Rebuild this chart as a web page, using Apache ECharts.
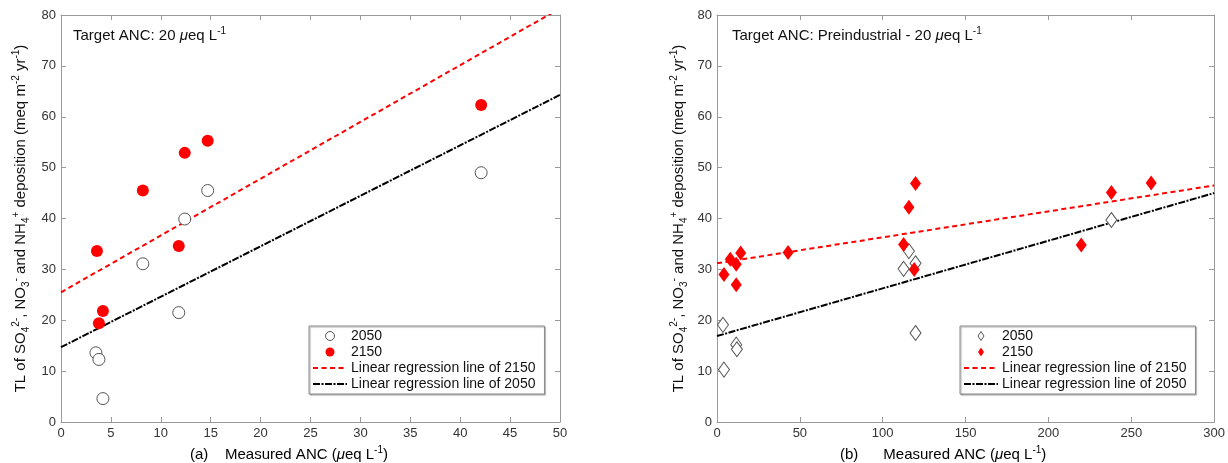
<!DOCTYPE html>
<html>
<head>
<meta charset="utf-8">
<script src="https://cdn.jsdelivr.net/npm/echarts@6/dist/echarts.min.js"></script>
<style>
  html, body { margin: 0; padding: 0; background: #fff; }
  #chart { width: 1228px; height: 463px; }
</style>
</head>
<body>
<div id="chart"></div>
<script>
// panel (a): target ANC 20 ueq/L
var ancA2050 = [3.5, 3.8, 4.2, 8.2, 11.8, 12.4, 14.7, 42.1];
var tlA2050  = [13.6, 12.3, 4.6, 31.1, 21.5, 39.9, 45.5, 49.0];
var ancA2150 = [3.6, 3.8, 4.2, 8.2, 11.8, 12.4, 14.7, 42.1];
var tlA2150  = [33.6, 19.4, 21.8, 45.5, 34.6, 52.9, 55.3, 62.3];
var regA2150 = [[0, 25.5], [50, 81.3]];
var regA2050 = [[0, 14.7], [50, 64.3]];

// panel (b): target ANC preindustrial - 20 ueq/L
var ancB2050 = [3.6, 4.2, 11.6, 12.0, 112.6, 115.8, 119.8, 119.8, 238];
var tlB2050  = [19.1, 10.3, 15.2, 14.3, 30.1, 33.6, 31.2, 17.5, 39.7];
var ancB2150 = [4.2, 8.0, 11.6, 11.6, 14.3, 42.9, 112.6, 115.8, 119.8, 119.0, 219.8, 238, 262];
var tlB2150  = [29.0, 32.0, 31.0, 27.0, 33.2, 33.3, 34.9, 42.2, 46.9, 30.0, 34.8, 45.1, 47.0];
var regB2150 = [[0, 31.2], [300, 46.5]];
var regB2050 = [[0, 16.9], [300, 45.0]];

var xTicksA = {min: 0, max: 50, interval: 5};
var xTicksB = {min: 0, max: 300, interval: 50};
var yTicks  = {min: 0, max: 80, interval: 10};

var legendNames = ['2050', '2150', 'Linear regression line of 2150', 'Linear regression line of 2050'];

var FONT = 'Liberation Sans';
var axisGrey = '#9a9a9a';

// narrow diamond for the legend, padded with move-to points so it is not stretched
var legendDiamond = 'path://M0,4.5 M34,4.5 M17,0 L20,4.5 L17,9 L14,4.5 Z';

var rich = {
  n:  {fontSize: 15, fontFamily: FONT, color: '#111', lineHeight: 20, fontWeight: 'normal'},
  i:  {fontSize: 15, fontFamily: FONT, color: '#111', lineHeight: 20, fontWeight: 'normal', fontStyle: 'italic'},
  sp: {fontSize: 10, fontFamily: FONT, color: '#111', lineHeight: 10, fontWeight: 'normal', verticalAlign: 'top'},
  sb: {fontSize: 10, fontFamily: FONT, color: '#111', lineHeight: 10, fontWeight: 'normal', verticalAlign: 'bottom'}
};

var yName = '{n|TL of SO}{sb|4}{sp|2-}{n|, NO}{sb|3}{sp|-}{n| and NH}{sb|4}{sp|+}{n| deposition (meq m}{sp|-2}{n| yr}{sp|-1}{n|)}';
var unit = '{n|(}{i|μ}{n|eq L}{sp|-1}{n|)}';

function pairs(xs, ys) {
  return xs.map(function (x, k) { return [x, ys[k]]; });
}

function xAxes(grid, ticks) {
  return [{
    type: 'value', gridIndex: grid, position: 'bottom',
    min: ticks.min, max: ticks.max, interval: ticks.interval,
    axisLine: {show: true, lineStyle: {color: axisGrey, width: 1}},
    axisTick: {show: true, inside: true, length: 5, lineStyle: {color: axisGrey}},
    axisLabel: {color: '#333', fontSize: 13, fontFamily: FONT, margin: 5},
    splitLine: {show: false}
  }, {
    type: 'value', gridIndex: grid, position: 'top',
    min: ticks.min, max: ticks.max, interval: ticks.interval,
    axisLine: {show: true, onZero: false, lineStyle: {color: axisGrey, width: 1}},
    axisTick: {show: true, inside: true, length: 5, lineStyle: {color: axisGrey}},
    axisLabel: {show: false},
    splitLine: {show: false}
  }];
}

function yAxes(grid, gap) {
  return [{
    type: 'value', gridIndex: grid, position: 'left',
    min: yTicks.min, max: yTicks.max, interval: yTicks.interval,
    name: yName, nameLocation: 'middle', nameGap: gap, nameRotate: 90,
    nameTextStyle: {rich: rich},
    axisLine: {show: true, onZero: false, lineStyle: {color: axisGrey, width: 1}},
    axisTick: {show: true, inside: true, length: 5, lineStyle: {color: axisGrey}},
    axisLabel: {color: '#333', fontSize: 13, fontFamily: FONT, margin: 5},
    splitLine: {show: false}
  }, {
    type: 'value', gridIndex: grid, position: 'right',
    min: yTicks.min, max: yTicks.max, interval: yTicks.interval,
    axisLine: {show: true, onZero: false, lineStyle: {color: axisGrey, width: 1}},
    axisTick: {show: true, inside: true, length: 5, lineStyle: {color: axisGrey}},
    axisLabel: {show: false},
    splitLine: {show: false}
  }];
}

function panelSeries(xi, yi, open, filled, red, black, sym, size) {
  return [{
    name: legendNames[3], type: 'line', xAxisIndex: xi, yAxisIndex: yi,
    data: black, symbol: 'none', clip: true, z: 2,
    itemStyle: {color: '#000'},
    lineStyle: {color: '#000', width: 2, type: [7, 1.5, 2, 1.5]}
  }, {
    name: legendNames[2], type: 'line', xAxisIndex: xi, yAxisIndex: yi,
    data: red, symbol: 'none', clip: true, z: 2,
    itemStyle: {color: '#ff0000'},
    lineStyle: {color: '#ff0000', width: 2, type: [5, 3.5]}
  }, {
    name: legendNames[0], type: 'scatter', xAxisIndex: xi, yAxisIndex: yi,
    data: open, symbol: sym, symbolSize: size, z: 3,
    itemStyle: {color: '#fff', borderColor: '#555', borderWidth: 1, opacity: 1}
  }, {
    name: legendNames[1], type: 'scatter', xAxisIndex: xi, yAxisIndex: yi,
    data: filled, symbol: sym, symbolSize: size, z: 4,
    itemStyle: {color: '#ff0000', opacity: 1}
  }];
}

function legendFor(left, sym) {
  var hidden = {color: 'rgba(0,0,0,0)', borderWidth: 0, opacity: 0};
  return {
    orient: 'vertical', left: left, top: 326,
    itemWidth: 34, itemHeight: 9, itemGap: 2,
    symbolKeepAspect: true,
    padding: [3, 9, 3, 3],
    backgroundColor: '#fff', borderColor: '#8a8a8a', borderWidth: 1,
    shadowColor: 'rgba(0,0,0,0.35)', shadowOffsetX: 1, shadowOffsetY: 1, shadowBlur: 1,
    selectedMode: false,
    textStyle: {fontSize: 14, fontFamily: FONT, color: '#111', padding: [0, 0, 0, -1]},
    data: [
      {name: legendNames[0], icon: sym, itemStyle: {color: '#fff', borderColor: '#555', borderWidth: 1}},
      {name: legendNames[1], icon: sym, itemStyle: {color: '#ff0000', borderWidth: 0}},
      {name: legendNames[2], itemStyle: hidden},
      {name: legendNames[3], itemStyle: hidden}
    ]
  };
}

var option = {
  backgroundColor: '#fff',
  animation: false,
  title: [{
    text: '{n|Target ANC: 20 }{i|μ}{n|eq L}{sp|-1}',
    left: 68, top: 21, textStyle: {rich: rich, fontWeight: 'normal'}
  }, {
    text: '{n|Target ANC: Preindustrial - 20 }{i|μ}{n|eq L}{sp|-1}',
    left: 727, top: 21, textStyle: {rich: rich, fontWeight: 'normal'}
  }],
  grid: [
    {left: 61, top: 15, width: 499, height: 407},
    {left: 717, top: 15, width: 499, height: 407}
  ],
  xAxis: xAxes(0, xTicksA).concat(xAxes(1, xTicksB)),
  yAxis: yAxes(0, 30).concat(yAxes(1, 28)),
  legend: [legendFor(309, 'circle'), legendFor(960, legendDiamond)],
  graphic: [{
    type: 'text', x: 190, y: 455,
    style: {text: '{n|(a)    Measured ANC }' + unit, rich: rich, verticalAlign: 'middle'}
  }, {
    type: 'text', x: 840, y: 455,
    style: {text: '{n|(b)      Measured ANC }' + unit, rich: rich, verticalAlign: 'middle'}
  }],
  series: panelSeries(0, 0, pairs(ancA2050, tlA2050), pairs(ancA2150, tlA2150), regA2150, regA2050, 'circle', 12)
    .concat(panelSeries(2, 2, pairs(ancB2050, tlB2050), pairs(ancB2150, tlB2150), regB2150, regB2050, 'diamond', [11, 15]))
};

echarts.init(document.getElementById('chart')).setOption(option);
</script>
</body>
</html>
